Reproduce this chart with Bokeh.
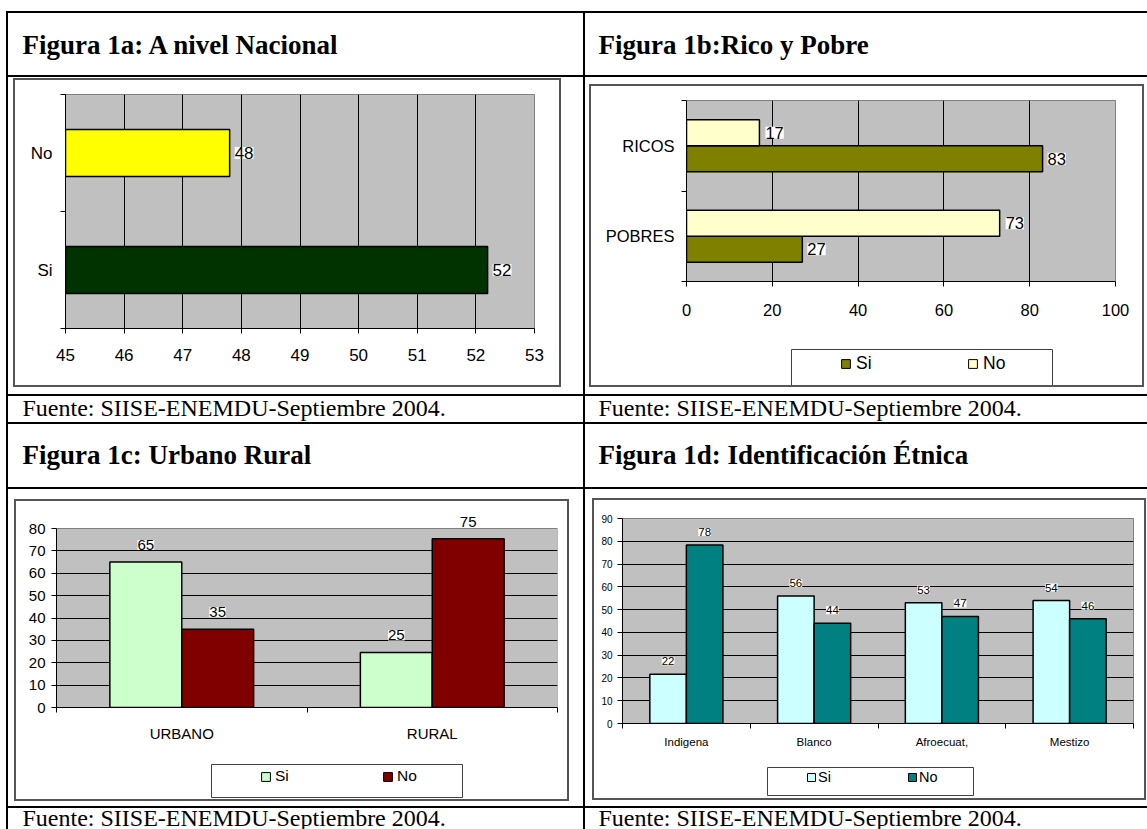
from bokeh.plotting import figure
from bokeh.models import (Range1d, FixedTicker, ColumnDataSource, LabelSet, Legend,
                          LegendItem, Spacer)
from bokeh.layouts import row, column
from bokeh.transform import dodge
from bokeh.embed import file_html
from bokeh.resources import INLINE
from bokeh.core.properties import value

# ---------------- data ----------------
titles = ["Figura 1a: A nivel Nacional", "Figura 1b:Rico y Pobre",
          "Figura 1c: Urbano Rural", "Figura 1d: Identificación Étnica"]
source_note = "Fuente: SIISE-ENEMDU-Septiembre 2004."
series = ["Si", "No"]

a_categories = ["Si", "No"]          # bottom to top
a_values = [52.2, 47.8]
a_colors = ["#003300", "#FFFF00"]
a_ticks = [45, 46, 47, 48, 49, 50, 51, 52, 53]

b_categories = ["POBRES", "RICOS"]   # bottom to top
b_si = [27, 83]
b_no = [73, 17]
b_colors = ["#808000", "#FFFFCC"]
b_ticks = [0, 20, 40, 60, 80, 100]

c_categories = ["URBANO", "RURAL"]
c_si = [65, 24.6]
c_no = [35, 75.4]
c_colors = ["#CCFFCC", "#800000"]
c_ticks = [0, 10, 20, 30, 40, 50, 60, 70, 80]

d_categories = ["Indigena", "Blanco", "Afroecuat,", "Mestizo"]
d_si = [21.6, 56, 53, 54]
d_no = [78.4, 44, 47, 46]
d_colors = ["#CCFFFF", "#008080"]
d_ticks = [0, 10, 20, 30, 40, 50, 60, 70, 80, 90]

# ---------------- helpers ----------------
SANS = "Liberation Sans"
SERIF = "Liberation Serif"
BOX_COLOR = "#555555"
BOX_LW = 2
TOTAL_W = 1147
LEFT_PAD = 6
PLOT_BG = "#C0C0C0"
PLOT_EDGE = "#808080"


def spacer(w, h, color=None):
    if color:
        return Spacer(width=w, height=h, styles={"background-color": color})
    return Spacer(width=w, height=h)


def blank_fig(w, h, x_range=None, y_range=None, left=0, right=0):
    p = figure(width=w, height=h,
               x_range=x_range if x_range is not None else Range1d(0, w),
               y_range=y_range if y_range is not None else Range1d(0, h),
               toolbar_location=None, output_backend="svg",
               x_axis_location=None, y_axis_location=None, min_border=0,
               min_border_left=left, min_border_right=right)
    p.grid.visible = False
    p.outline_line_color = None
    p.background_fill_color = "white"
    p.border_fill_color = "white"
    return p


def text_cell(w, h, txt, x, y, size, bold):
    p = blank_fig(w, h)
    p.text(x=[x], y=[y], text=[txt], text_font=value(SERIF),
           text_font_size=f"{size}px", text_font_style="bold" if bold else "normal",
           text_baseline="middle", text_align="left", text_color="black")
    return p


def legend_fig(w, h, ox, top, frame, spec):
    # frame edges aligned with the chart above; data units = pixel positions
    fl, ft, fr, fb = frame
    bottom = top + h
    lp = blank_fig(w, h, x_range=Range1d(fl, fr), y_range=Range1d(bottom, top),
                   left=fl - ox, right=ox + w - fr)
    bx0, by0, bx1, by1 = spec["box"]
    lp.quad(left=[bx0], right=[bx1], top=[by0], bottom=[by1],
            fill_alpha=0, line_color="#404040", line_width=1)
    g = spec["glyph"]
    # zero-size legend proxies, sitting underneath the legend swatches that cover them
    cy = spec["sq_top"] + g / 2
    rs = [lp.vbar(x=[sx + g / 2], top=[cy], bottom=[cy], width=0, fill_color=c,
                  line_color="black", line_width=1)
          for sx, c in zip((spec["sq_left"], spec["sq_next"]), spec["colors"])]
    legend = Legend(items=[LegendItem(label=s, renderers=[r]) for s, r in zip(series, rs)],
                    orientation="horizontal",
                    location=(spec["sq_left"] - fl, bottom - (spec["sq_top"] + g)),
                    padding=0, margin=0,
                    spacing=spec["sq_next"] - spec["sq_left"] - (g + spec["standoff"] + spec["label_w"]),
                    glyph_width=g, glyph_height=g, label_standoff=spec["standoff"],
                    label_width=spec["label_w"], label_height=g,
                    border_line_color=None, background_fill_alpha=0,
                    label_text_font=SANS, label_text_font_size=f"{spec['size']}px",
                    label_text_color="black")
    lp.add_layout(legend)
    return lp


def chart_cell(cell, box, frame, x_range, y_range, legend=None):
    cx0, cy0, cx1, cy1 = cell
    bx0, by0, bx1, by1 = box
    fl, ft, fr, fb = frame
    ox, oy = bx0 + BOX_LW, by0 + BOX_LW
    cw, ch_total = bx1 - bx0 - 2 * BOX_LW, by1 - by0 - 2 * BOX_LW
    ch = (legend["split"] - oy) if legend else ch_total
    p = figure(width=cw, height=ch, x_range=x_range, y_range=y_range,
               toolbar_location=None, output_backend="svg",
               min_border_left=fl - ox, min_border_right=ox + cw - fr,
               min_border_top=ft - oy, min_border_bottom=oy + ch - fb)
    p.background_fill_color = PLOT_BG
    p.border_fill_color = "white"
    p.outline_line_color = PLOT_EDGE
    p.outline_line_width = 1
    for ax in p.axis:
        ax.axis_line_color = "black"
        ax.axis_line_width = 1
        ax.major_tick_line_color = "black"
        ax.minor_tick_line_color = "black"
        ax.major_tick_in = 0
        ax.minor_tick_in = 0
        ax.major_label_text_font = SANS
        ax.major_label_text_color = "black"
    p.grid.grid_line_color = "black"
    p.grid.grid_line_width = 1
    inner = p
    if legend:
        lh = oy + ch_total - legend["split"]
        inner = column(p, legend_fig(cw, lh, ox, legend["split"], frame, legend))
    bw, bh = bx1 - bx0, by1 - by0
    box_l = column(spacer(bw, BOX_LW, BOX_COLOR),
                   row(spacer(BOX_LW, ch_total, BOX_COLOR), inner, spacer(BOX_LW, ch_total, BOX_COLOR)),
                   spacer(bw, BOX_LW, BOX_COLOR))
    mid = []
    if bx0 > cx0:
        mid.append(spacer(bx0 - cx0, bh))
    mid.append(box_l)
    if cx1 > bx1:
        mid.append(spacer(cx1 - bx1, bh))
    parts = []
    if by0 > cy0:
        parts.append(spacer(cx1 - cx0, by0 - cy0))
    parts.append(row(*mid))
    if cy1 > by1:
        parts.append(spacer(cx1 - cx0, cy1 - by1))
    return column(*parts), p


def band_axis(ax, categories, size, standoff, tick_out=5):
    centers = [i + 0.5 for i in range(len(categories))]
    ax.ticker = FixedTicker(ticks=centers, minor_ticks=list(range(len(categories) + 1)))
    ax.major_label_overrides = {c: lab for c, lab in zip(centers, categories)}
    ax.major_tick_out = 0
    ax.minor_tick_out = tick_out
    ax.major_label_standoff = standoff
    ax.major_label_text_font_size = f"{size}px"


def value_axis(ax, ticks, size, standoff, tick_out=5):
    ax.ticker = FixedTicker(ticks=ticks)
    ax.major_tick_out = tick_out
    ax.minor_tick_out = 0
    ax.major_label_standoff = standoff
    ax.major_label_text_font_size = f"{size}px"


def fmt(vals):
    return [f"{v:.0f}" for v in vals]


def labels(src, x, y, text, size, **kw):
    return LabelSet(x=x, y=y, text=text, source=src, text_font=value(SANS),
                    text_font_size=f"{size}px", text_color="black",
                    background_fill_color="white", **kw)


# ---------------- chart a ----------------
a_pos = [i + 0.5 for i in range(len(a_categories))]
a_src = ColumnDataSource(dict(pos=a_pos, val=a_values, color=a_colors, lab=fmt(a_values)))
cell_a, pa = chart_cell((8, 77, 583, 394), (13, 78, 561, 387), (65, 94, 534, 328),
                        Range1d(a_ticks[0], a_ticks[-1]), Range1d(0, len(a_categories)))
pa.hbar(y="pos", left=a_ticks[0], right="val", height=0.4, fill_color="color",
        line_color="black", line_width=1.5, source=a_src)
value_axis(pa.xaxis[0], a_ticks, 17, 15)
band_axis(pa.yaxis[0], a_categories, 17, 8)
pa.xgrid.ticker = FixedTicker(ticks=a_ticks[1:-1])
pa.ygrid.visible = False
pa.add_layout(labels(a_src, "val", "pos", "lab", 17, x_offset=5,
                     text_align="left", text_baseline="middle"))

# ---------------- chart b ----------------
B_BAR = 0.288
b_pos = [i + 0.5 for i in range(len(b_categories))]
b_src = ColumnDataSource(dict(pos=b_pos, si=b_si, no=b_no, si_lab=fmt(b_si), no_lab=fmt(b_no)))
cell_b, pb = chart_cell((585, 77, 1147, 394), (589, 84, 1144, 387), (686, 100, 1115, 281),
                        Range1d(b_ticks[0], b_ticks[-1]), Range1d(0, len(b_categories)),
                        legend=dict(split=340, box=(791, 349, 1052, 390), sq_left=840, sq_top=363,
                                    sq_next=967, glyph=11, standoff=5, label_w=40, size=17.5,
                                    colors=b_colors))
pb.hbar(y=dodge("pos", -B_BAR / 2), left=0, right="si", height=B_BAR,
        fill_color=b_colors[0], line_color="black", line_width=1.5, source=b_src)
pb.hbar(y=dodge("pos", B_BAR / 2), left=0, right="no", height=B_BAR,
        fill_color=b_colors[1], line_color="black", line_width=1.5, source=b_src)
value_axis(pb.xaxis[0], b_ticks, 16.5, 17)
band_axis(pb.yaxis[0], b_categories, 16.5, 7)
pb.xgrid.ticker = FixedTicker(ticks=b_ticks[1:-1])
pb.ygrid.visible = False
pb.add_layout(labels(b_src, "si", dodge("pos", -B_BAR / 2), "si_lab", 16.5, x_offset=5,
                     text_align="left", text_baseline="middle"))
pb.add_layout(labels(b_src, "no", dodge("pos", B_BAR / 2), "no_lab", 16.5, x_offset=6,
                     text_align="left", text_baseline="middle"))

# ---------------- chart c ----------------
C_BAR = 0.287
C_PLOT_TOP = 528                      # pixel row of the top of the grey plot area
frame_c = (56, 512, 557, 707)         # frame a little taller so the "75" label is not clipped
c_top = c_ticks[-1] + (C_PLOT_TOP - frame_c[1]) * (c_ticks[-1] - c_ticks[0]) / (frame_c[3] - C_PLOT_TOP)
c_pos = [i + 0.5 for i in range(len(c_categories))]
c_src = ColumnDataSource(dict(pos=c_pos, si=c_si, no=c_no, si_lab=fmt(c_si), no_lab=fmt(c_no)))
cell_c, pc = chart_cell((8, 489, 583, 806), (14, 499, 569, 801), frame_c,
                        Range1d(0, len(c_categories)), Range1d(c_ticks[0], c_top),
                        legend=dict(split=752, box=(211, 764, 462, 797), sq_left=260, sq_top=774,
                                    sq_next=382, glyph=11, standoff=4, label_w=40, size=15.5,
                                    colors=c_colors))
pc.outline_line_color = None
pc.background_fill_color = "white"
pc.quad(left=[0], right=[len(c_categories)], bottom=[c_ticks[0]], top=[c_ticks[-1]],
        fill_color=PLOT_BG, line_color=PLOT_EDGE, line_width=1, level="image")
pc.vbar(x=dodge("pos", -C_BAR / 2), bottom=0, top="si", width=C_BAR,
        fill_color=c_colors[0], line_color="black", line_width=1.5, source=c_src)
pc.vbar(x=dodge("pos", C_BAR / 2), bottom=0, top="no", width=C_BAR,
        fill_color=c_colors[1], line_color="black", line_width=1.5, source=c_src)
band_axis(pc.xaxis[0], c_categories, 15, 12)
value_axis(pc.yaxis[0], c_ticks, 15, 6)
pc.yaxis[0].bounds = (c_ticks[0], c_ticks[-1])
pc.ygrid.ticker = FixedTicker(ticks=c_ticks[1:-1])
pc.xgrid.visible = False
pc.add_layout(labels(c_src, dodge("pos", -C_BAR / 2), "si", "si_lab", 15, y_offset=12,
                     text_align="center", text_baseline="bottom"))
pc.add_layout(labels(c_src, dodge("pos", C_BAR / 2), "no", "no_lab", 15, y_offset=12,
                     text_align="center", text_baseline="bottom"))

# ---------------- chart d ----------------
D_BAR = 0.286
d_pos = [i + 0.5 for i in range(len(d_categories))]
d_src = ColumnDataSource(dict(pos=d_pos, si=d_si, no=d_no, si_lab=fmt(d_si), no_lab=fmt(d_no)))
cell_d, pd_ = chart_cell((585, 489, 1147, 806), (592, 498, 1146, 800), (622, 518, 1133, 723),
                         Range1d(0, len(d_categories)), Range1d(d_ticks[0], d_ticks[-1]),
                         legend=dict(split=755, box=(767, 767, 973, 795), sq_left=806, sq_top=775,
                                     sq_next=907, glyph=10, standoff=2, label_w=40, size=14.5,
                                     colors=d_colors))
pd_.vbar(x=dodge("pos", -D_BAR / 2), bottom=0, top="si", width=D_BAR,
         fill_color=d_colors[0], line_color="black", line_width=1.5, source=d_src)
pd_.vbar(x=dodge("pos", D_BAR / 2), bottom=0, top="no", width=D_BAR,
         fill_color=d_colors[1], line_color="black", line_width=1.5, source=d_src)
band_axis(pd_.xaxis[0], d_categories, 11.5, 7)
value_axis(pd_.yaxis[0], d_ticks, 10, 5)
pd_.ygrid.ticker = FixedTicker(ticks=d_ticks[1:-1])
pd_.xgrid.visible = False
pd_.add_layout(labels(d_src, dodge("pos", -D_BAR / 2), "si", "si_lab", 11.5, y_offset=9,
                      text_align="center", text_baseline="bottom"))
pd_.add_layout(labels(d_src, dodge("pos", D_BAR / 2), "no", "no_lab", 11.5, y_offset=9,
                      text_align="center", text_baseline="bottom"))

# ---------------- table ----------------
W1, W2 = 575, 562
title_a = text_cell(W1, 62, titles[0], 14, 30.8, 27, True)
title_b = text_cell(W2, 62, titles[1], 13, 30.8, 27, True)
title_c = text_cell(W1, 63, titles[2], 14, 32.8, 27, True)
title_d = text_cell(W2, 63, titles[3], 13, 32.8, 27, True)
src_a = text_cell(W1, 26, source_note, 14, 14.4, 24, False)
src_b = text_cell(W2, 26, source_note, 13, 14.4, 24, False)
src_c = text_cell(W1, 21, source_note, 14, 11.2, 24, False)
src_d = text_cell(W2, 21, source_note, 13, 11.2, 24, False)


def trow(left, right, h):
    return row(spacer(LEFT_PAD, h), spacer(2, h, "black"), left, spacer(2, h, "black"), right)


def hl():
    return row(spacer(LEFT_PAD, 2), spacer(TOTAL_W - LEFT_PAD, 2, "black"))


page = column(
    spacer(TOTAL_W, 11),
    hl(), trow(title_a, title_b, 62),
    hl(), trow(cell_a, cell_b, 317),
    hl(), trow(src_a, src_b, 26),
    hl(), trow(title_c, title_d, 63),
    hl(), trow(cell_c, cell_d, 317),
    hl(), trow(src_c, src_d, 21),
)

open("out.html", "w").write(file_html(page, INLINE))
